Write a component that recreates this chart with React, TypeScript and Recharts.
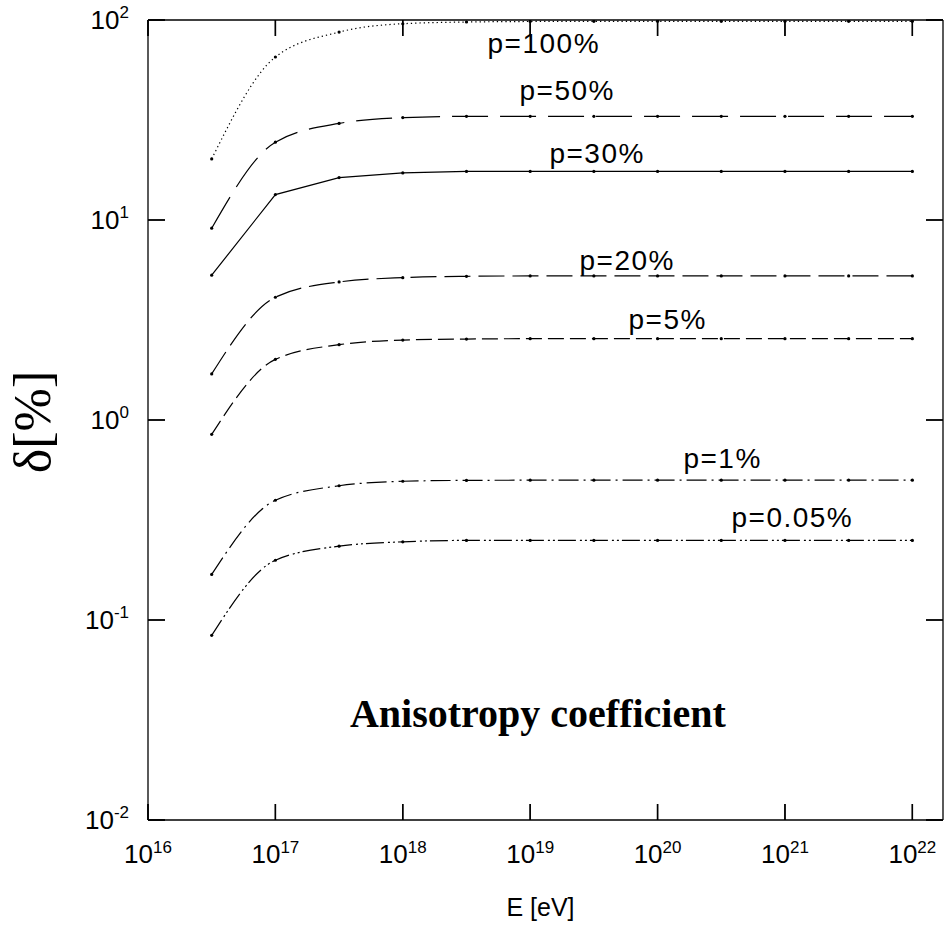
import React from 'react';
import { LineChart, Line, XAxis, YAxis } from 'recharts';

// log10 of energy for every computed point
const energyExponents = [16.5, 17, 17.5, 18, 18.5, 19, 19.5, 20, 20.5, 21, 21.5, 22];

const p100 = [20.2, 65.3, 87, 95.8, 97.7, 98.3, 98.5, 98.5, 98.5, 98.5, 98.5, 98.5];
const p50 = [9.1, 24.5, 30.4, 32.5, 33.0, 33.0, 33.0, 33.0, 33.0, 33.0, 33.0, 33.0];
const p30 = [5.3, 13.4, 16.3, 17.2, 17.5, 17.5, 17.5, 17.5, 17.5, 17.5, 17.5, 17.5];
const p20 = [1.7, 4.11, 4.9, 5.15, 5.23, 5.25, 5.25, 5.25, 5.25, 5.25, 5.25, 5.25];
const p5 = [0.848, 2.01, 2.38, 2.51, 2.54, 2.55, 2.55, 2.55, 2.55, 2.55, 2.55, 2.55];
const p1 = [0.169, 0.397, 0.469, 0.494, 0.499, 0.5, 0.5, 0.5, 0.5, 0.5, 0.5, 0.5];
const p005 = [0.0838, 0.199, 0.234, 0.246, 0.25, 0.25, 0.25, 0.25, 0.25, 0.25, 0.25, 0.25];

const xTickExponents = [16, 17, 18, 19, 20, 21, 22];
const yTickExponents = [-2, -1, 0, 1, 2];
const xDomain = [1e16, 1.74e22];
const yDomain = [0.01, 100];

// curve labels: text, log10 E, δ value at the text baseline-left
const curveLabels = [
  { text: 'p=100%', e: 18.665, v: 68.4 },
  { text: 'p=50%', e: 18.916, v: 39.8 },
  { text: 'p=30%', e: 19.151, v: 19.3 },
  { text: 'p=20%', e: 19.387, v: 5.62 },
  { text: 'p=5%', e: 19.772, v: 2.85 },
  { text: 'p=1%', e: 20.203, v: 0.575 },
  { text: 'p=0.05%', e: 20.58, v: 0.292 },
];
const titleText = 'Anisotropy coefficient';
const titlePos = { e: 19.06, v: 0.0292 };
const xTitle = 'E [eV]';
const yTitle = 'δ[%]';

const series = [
  { key: 'p100', values: p100, dash: '1.3 3', type: 'monotone' },
  { key: 'p50', values: p50, dash: '36 12', type: 'monotone' },
  { key: 'p30', values: p30, dash: undefined, type: 'linear' },
  { key: 'p20', values: p20, dash: '26 8', type: 'monotone' },
  { key: 'p5', values: p5, dash: '16 6', type: 'monotone' },
  { key: 'p1', values: p1, dash: '20 5 2 5', type: 'monotone' },
  { key: 'p005', values: p005, dash: '18 4 2 3 2 3', type: 'monotone' },
];

const data = energyExponents.map((ex, i) => {
  const row: any = { E: Math.pow(10, ex) };
  series.forEach((s) => {
    row[s.key] = s.values[i];
  });
  return row;
});

// layout
const W = 945;
const H = 927;
const MARGIN = { top: 19, right: 1, bottom: 0, left: 0 };
const Y_AXIS_W = 148;
const X_AXIS_H = 107;
const PLOT = {
  left: MARGIN.left + Y_AXIS_W,
  right: W - MARGIN.right - 1,
  top: MARGIN.top + 1,
  bottom: H - MARGIN.bottom - X_AXIS_H,
};
const lx = (logE: number) =>
  PLOT.left + ((logE - Math.log10(xDomain[0])) / (Math.log10(xDomain[1]) - Math.log10(xDomain[0]))) * (PLOT.right - PLOT.left);
const ly = (v: number) =>
  PLOT.bottom - ((Math.log10(v) - Math.log10(yDomain[0])) / (Math.log10(yDomain[1]) - Math.log10(yDomain[0]))) * (PLOT.bottom - PLOT.top);

const FONT = '"Liberation Sans", Arial, Helvetica, sans-serif';
const SERIF = '"Liberation Serif", "Times New Roman", Times, serif';
const XTICK = 16;
const YTICK = 17;
const INK = '#000';

const exponentOf = (v: number) => Math.round(Math.log10(v));

// ticks point inward (negative tickSize); x/y given are the inner ends of the tick lines
const BottomTick = (props: any) => {
  const { x, y, payload } = props;
  return (
    <g>
      <line x1={x} x2={x} y1={y} y2={y + XTICK} stroke={INK} strokeWidth={1.4} />
      <text x={x} y={y + XTICK + 43} textAnchor="middle" fontSize={26} fontFamily={FONT} fill="#000">
        10<tspan dy={-10} fontSize={17}>{exponentOf(payload.value)}</tspan>
      </text>
    </g>
  );
};

const TopTick = (props: any) => {
  const { x, y } = props;
  return (
    <g>
      <line x1={x} x2={x} y1={y - XTICK} y2={y} stroke={INK} strokeWidth={1.4} />
    </g>
  );
};

const LeftTick = (props: any) => {
  const { x, y, payload } = props;
  return (
    <g>
      <line x1={x - YTICK} x2={x} y1={y} y2={y} stroke={INK} strokeWidth={1.4} />
      <text x={x - YTICK - 19} y={y + 9} textAnchor="end" fontSize={26} fontFamily={FONT} fill="#000">
        10<tspan dy={-11} fontSize={17}>{exponentOf(payload.value)}</tspan>
      </text>
    </g>
  );
};

const RightTick = (props: any) => {
  const { x, y } = props;
  return (
    <g>
      <line x1={x} x2={x + YTICK} y1={y} y2={y} stroke={INK} strokeWidth={1.4} />
    </g>
  );
};

const xTicks = xTickExponents.map((e) => Math.pow(10, e));
const yTicks = yTickExponents.map((e) => Math.pow(10, e));

const tickStyle = { stroke: INK, strokeWidth: 1.4 };
const frameStyle = { stroke: INK, strokeWidth: 1.3 };

export default function App() {
  return (
    <div style={{ position: 'absolute', left: 0, top: 0, width: W, height: H, background: '#fff' }}>
      <LineChart width={W} height={H} data={data} margin={MARGIN}>
        <XAxis
          xAxisId="b"
          dataKey="E"
          type="number"
          scale="log"
          domain={xDomain}
          allowDataOverflow
          ticks={xTicks}
          tick={<BottomTick />}
          tickSize={-XTICK}
          tickMargin={0}
          tickLine={tickStyle}
          height={X_AXIS_H}
          axisLine={frameStyle}
          interval={0}
        />
        <XAxis
          xAxisId="t"
          dataKey="E"
          type="number"
          scale="log"
          orientation="top"
          domain={xDomain}
          allowDataOverflow
          ticks={xTicks}
          tick={<TopTick />}
          tickSize={-XTICK}
          tickMargin={0}
          tickLine={tickStyle}
          height={1}
          axisLine={frameStyle}
          interval={0}
        />
        <YAxis
          yAxisId="l"
          type="number"
          scale="log"
          domain={yDomain}
          allowDataOverflow
          ticks={yTicks}
          tick={<LeftTick />}
          tickSize={-YTICK}
          tickMargin={0}
          tickLine={tickStyle}
          width={Y_AXIS_W}
          axisLine={frameStyle}
          interval={0}
        />
        <YAxis
          yAxisId="r"
          orientation="right"
          type="number"
          scale="log"
          domain={yDomain}
          allowDataOverflow
          ticks={yTicks}
          tick={<RightTick />}
          tickSize={-YTICK}
          tickMargin={0}
          tickLine={tickStyle}
          width={1}
          axisLine={frameStyle}
          interval={0}
        />
        {series.map((s) => (
          <Line
            key={s.key}
            xAxisId="b"
            yAxisId="l"
            dataKey={s.key}
            type={s.type as any}
            stroke="#000"
            strokeWidth={1.2}
            strokeDasharray={s.dash}
            dot={{ r: 1.6, fill: '#000', stroke: 'none' }}
            activeDot={false}
            isAnimationActive={false}
          />
        ))}
      </LineChart>
      <svg
        width={W}
        height={H}
        style={{ position: 'absolute', left: 0, top: 0, pointerEvents: 'none' }}
      >
        {curveLabels.map((l) => (
          <text key={l.text} x={lx(l.e)} y={ly(l.v)} fontSize={28} letterSpacing={1.5} fontFamily={FONT} fill="#000">
            {l.text}
          </text>
        ))}
        <text
          x={lx(titlePos.e)}
          y={ly(titlePos.v)}
          textAnchor="middle"
          fontSize={40}
          fontWeight="bold"
          fontFamily={SERIF}
          fill="#000"
        >
          {titleText}
        </text>
        <text
          x={(PLOT.left + PLOT.right) / 2 - 5}
          y={PLOT.bottom + 96}
          textAnchor="middle"
          fontSize={25}
          fontFamily={FONT}
          fill="#000"
        >
          {xTitle}
        </text>
        <text
          x={50}
          y={(PLOT.top + PLOT.bottom) / 2 + 2}
          transform={`rotate(-90 50 ${(PLOT.top + PLOT.bottom) / 2 + 2})`}
          textAnchor="middle"
          fontSize={52}
          fontFamily={SERIF}
          fill="#000"
        >
          {yTitle}
        </text>
      </svg>
    </div>
  );
}
